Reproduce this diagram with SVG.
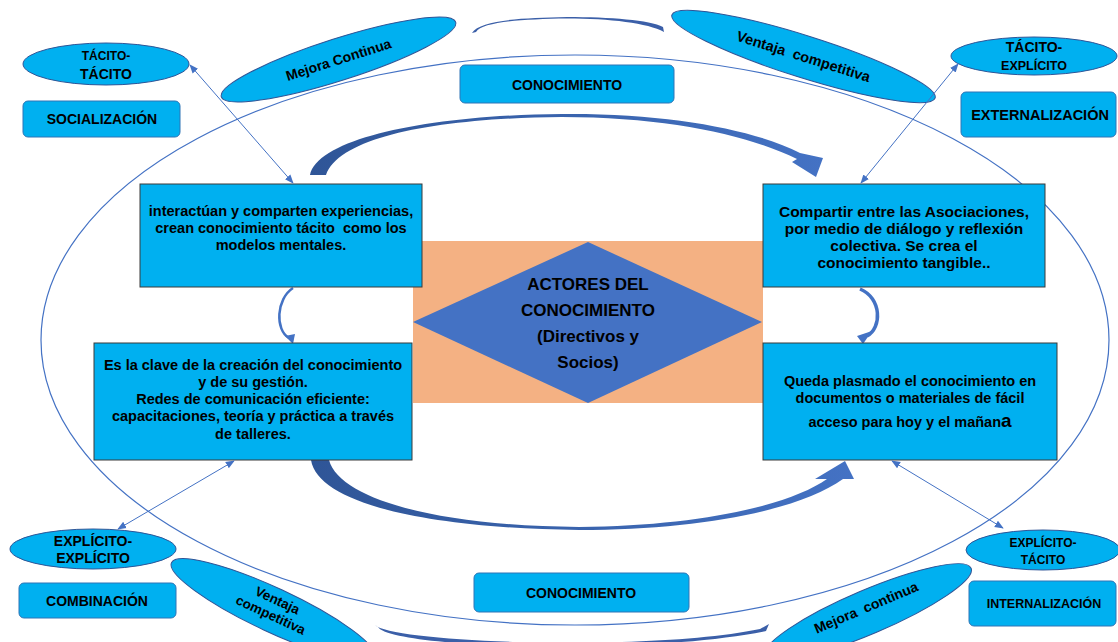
<svg xmlns="http://www.w3.org/2000/svg" width="1118" height="642" viewBox="0 0 1118 642">
<defs>
<style>
.t{font-family:"Liberation Sans",Arial,sans-serif;font-weight:bold;fill:#000;text-anchor:middle}
.box{fill:#00b0f0;stroke:#3a3a3a;stroke-width:1}
.rbox{fill:#00b0f0;stroke:#2e75b6;stroke-width:1}
.ell{fill:#00b0f0;stroke:#2f5597;stroke-width:1}
.thin{fill:none;stroke:#4472c4;stroke-width:1;marker-start:url(#ah);marker-end:url(#ah)}
.big{fill:url(#g1)}
</style>
<marker id="ah" viewBox="0 0 10 10" refX="9" refY="5" markerWidth="9" markerHeight="9" orient="auto-start-reverse" markerUnits="userSpaceOnUse"><path d="M0,1 L10,5 L0,9 Z" fill="#4472c4"/></marker>
<linearGradient id="g1" x1="0" x2="1" y1="0" y2="0"><stop offset="0" stop-color="#2f5597"/><stop offset="1" stop-color="#4472c4"/></linearGradient>
</defs>

<g id="connectors">
<ellipse id="outer-cycle" cx="575" cy="340" rx="534" ry="285" fill="none" stroke="#4472c4" stroke-width="1.2"/>
<path d="M472,33 C480,20 520,18 567,17 C610,17 650,20 663,27 L664,32 C648,23 610,18.5 567,18.5 C522,19 482,22 476,32 Z" fill="#3b5fa8"/>
<path d="M375,625 C392,643 650,652 760,629 L769,624 L766,631 C650,655 392,649 378,627 Z" fill="#3b5fa8"/>
<path class="big" d="M310,175 C318,138 430,115 562,114 C670,113 755,130 800,153 L823,158 L816,177 L792,162 L797,159 C750,136 670,117 562,117 C440,118 340,136 326,175 Z"/>
<path class="big" d="M311,460 C318,502 420,528 579,530 C700,530 800,510 843,479 L854,479 L845,461 L815,479 L827,479 C790,505 700,526 579,527 C440,526 340,500 329,460 Z"/>
<path d="M293,288 C276,299 275,330 289,338" fill="none" stroke="#4472c4" stroke-width="2.5"/>
<polygon points="285,336 295,334 293,344" fill="#4472c4"/>
<path d="M860,289 C882,298 882,328 867,336" fill="none" stroke="#4472c4" stroke-width="3.5"/>
<polygon points="872,331 857,336 863,344" fill="#4472c4"/>
</g>

<g id="center">
<rect x="413" y="241" width="350" height="162" fill="#f4b183"/>
<polygon points="413,322 588,242 762,322 588,403" fill="#4472c4"/>
<text class="t" x="588" y="290" font-size="17">ACTORES DEL</text>
<text class="t" x="588" y="316" font-size="17">CONOCIMIENTO</text>
<text class="t" x="588" y="342" font-size="17">(Directivos y</text>
<text class="t" x="588" y="368" font-size="17">Socios)</text>
</g>

<g id="box-socializacion-desc">
<rect class="box" x="140" y="184" width="282" height="103"/>
<text class="t" x="281" y="216" font-size="14.5">interactúan y comparten experiencias,</text>
<text class="t" x="281" y="233" font-size="14.5" xml:space="preserve">crean conocimiento tácito  como los</text>
<text class="t" x="281" y="250" font-size="14.5">modelos mentales.</text>
</g>

<g id="box-externalizacion-desc">
<rect class="box" x="763" y="184" width="282" height="103"/>
<text class="t" x="904" y="217" font-size="15.5">Compartir entre las Asociaciones,</text>
<text class="t" x="904" y="234" font-size="15.5">por medio de diálogo y reflexión</text>
<text class="t" x="904" y="251" font-size="15.5">colectiva. Se crea el</text>
<text class="t" x="904" y="268" font-size="15.5">conocimiento tangible..</text>
</g>

<g id="box-combinacion-desc">
<rect class="box" x="94" y="343" width="318" height="117"/>
<text class="t" x="253" y="370" font-size="14.5">Es la clave de la creación del conocimiento</text>
<text class="t" x="253" y="387" font-size="14.5">y de su gestión.</text>
<text class="t" x="253" y="404" font-size="14.5">Redes de comunicación eficiente:</text>
<text class="t" x="253" y="421" font-size="14.5">capacitaciones, teoría y práctica a través</text>
<text class="t" x="253" y="439" font-size="14.5">de talleres.</text>
</g>

<g id="box-internalizacion-desc">
<rect class="box" x="763" y="343" width="294" height="117"/>
<text class="t" x="910" y="386" font-size="14.5">Queda plasmado el conocimiento en</text>
<text class="t" x="910" y="403" font-size="14.5">documentos o materiales de fácil</text>
<text class="t" x="910" y="427" font-size="14.5">acceso para hoy y el mañan<tspan font-size="19">a</tspan></text>
</g>

<g id="label-conocimiento-top">
<rect class="rbox" x="460" y="65" width="214" height="38" rx="5"/>
<text class="t" x="567" y="90" font-size="14">CONOCIMIENTO</text>
</g>
<g id="label-conocimiento-bottom">
<rect class="rbox" x="474" y="573" width="215" height="39" rx="5"/>
<text class="t" x="581" y="598" font-size="14">CONOCIMIENTO</text>
</g>
<g id="label-socializacion">
<rect class="rbox" x="23" y="101" width="157" height="36" rx="5"/>
<text class="t" x="102" y="124" font-size="14">SOCIALIZACIÓN</text>
</g>
<g id="label-externalizacion">
<rect class="rbox" x="961" y="92" width="155" height="45" rx="5"/>
<text class="t" x="1040" y="120" font-size="14.5">EXTERNALIZACIÓN</text>
</g>
<g id="label-combinacion">
<rect class="rbox" x="19" y="583" width="157" height="35" rx="5"/>
<text class="t" x="97" y="606" font-size="14">COMBINACIÓN</text>
</g>
<g id="label-internalizacion">
<rect class="rbox" x="969" y="581" width="147" height="45" rx="5"/>
<text class="t" x="1044" y="608" font-size="12.5">INTERNALIZACIÓN</text>
</g>

<g id="ell-tacito-tacito">
<ellipse class="ell" cx="106" cy="64" rx="83" ry="21"/>
<text class="t" x="106" y="60" font-size="12">TÁCITO-</text>
<text class="t" x="106" y="79" font-size="14">TÁCITO</text>
</g>
<g id="ell-tacito-explicito">
<ellipse class="ell" cx="1034" cy="56" rx="83" ry="19"/>
<text class="t" x="1034" y="52" font-size="14">TÁCITO-</text>
<text class="t" x="1034" y="70" font-size="12.5">EXPLÍCITO</text>
</g>
<g id="ell-explicito-explicito">
<ellipse class="ell" cx="93" cy="549" rx="83" ry="20"/>
<text class="t" x="93" y="546" font-size="14">EXPLÍCITO-</text>
<text class="t" x="93" y="563" font-size="14">EXPLÍCITO</text>
</g>
<g id="ell-explicito-tacito">
<ellipse class="ell" cx="1043" cy="550" rx="77" ry="20"/>
<text class="t" x="1043" y="547" font-size="12">EXPLÍCITO-</text>
<text class="t" x="1043" y="564" font-size="12">TÁCITO</text>
</g>

<g id="ell-mejora-top" transform="translate(338.5,59.5) rotate(-17.7)">
<ellipse class="ell" cx="0" cy="0" rx="123" ry="21"/>
<text class="t" x="0" y="5" font-size="14">Mejora Continua</text>
</g>
<g id="ell-ventaja-top" transform="translate(803.5,56.5) rotate(17.5)">
<ellipse class="ell" cx="0" cy="0" rx="138" ry="21"/>
<text class="t" x="0" y="5" font-size="14.5" xml:space="preserve">Ventaja  competitiva</text>
</g>
<g id="ell-ventaja-bottom" transform="translate(273,610) rotate(25)">
<ellipse class="ell" cx="0" cy="0" rx="112" ry="22"/>
<text class="t" x="0" y="-6" font-size="13.5">Ventaja</text>
<text class="t" x="0" y="10" font-size="13.5">competitiva</text>
</g>
<g id="ell-mejora-bottom" transform="translate(868,612) rotate(-23)">
<ellipse class="ell" cx="0" cy="0" rx="112" ry="22"/>
<text class="t" x="0" y="0" font-size="14" xml:space="preserve">Mejora  continua</text>
</g>

<g id="links">
<line class="thin" x1="190" y1="65" x2="293" y2="183"/>
<line class="thin" x1="958" y1="64" x2="861" y2="183"/>
<line class="thin" x1="234" y1="461" x2="118" y2="529"/>
<line class="thin" x1="892" y1="461" x2="1003" y2="528"/>
</g>
</svg>
